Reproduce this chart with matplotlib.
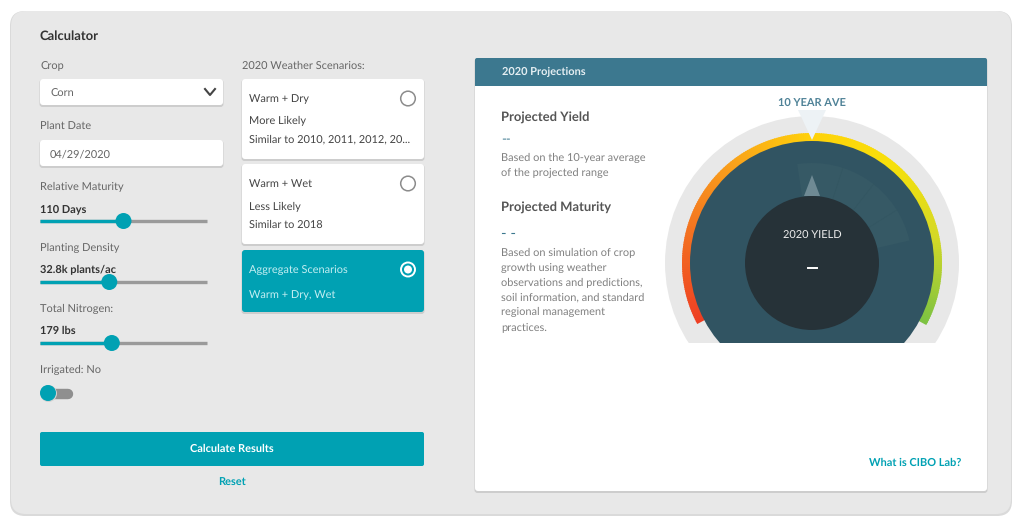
import numpy as np
import matplotlib
matplotlib.use("Agg")
import matplotlib.pyplot as plt
from matplotlib.patches import FancyBboxPatch, Circle, Wedge, Rectangle, Polygon
from matplotlib.colors import LinearSegmentedColormap

plt.rcParams["font.family"] = ["Lato", "DejaVu Sans"]
plt.rcParams["text.hinting"] = "no_hinting"
plt.rcParams["text.hinting_factor"] = 1

slider_names = ["Relative Maturity", "Planting Density", "Total Nitrogen:"]
slider_values = ["110 Days", "32.8k plants/ac", "179 lbs"]
slider_fractions = [0.50, 0.415, 0.43]
scenario_titles = ["Warm + Dry", "Warm + Wet", "Aggregate Scenarios"]
scenario_likely = ["More Likely", "Less Likely", "Warm + Dry, Wet"]
scenario_similar = ["Similar to 2010, 2011, 2012, 20...", "Similar to 2018", ""]
gauge_colors = ["#ee3f23", "#f36f21", "#f9a11b", "#ffd20a", "#f7e00a", "#d5d926", "#7dc242"]
sector_spokes = [-72, -52, -32]

TEAL = "#00a1b3"
GREY = "#666666"
DARK = "#333333"

fig = plt.figure(figsize=(10.24, 5.24), dpi=100)
ax = fig.add_axes([0, 0, 1, 1])
ax.set_xlim(0, 1024)
ax.set_ylim(524, 0)
ax.axis("off")


def box(x, y, w, h, fc, ec="none", r=3, lw=0.8, z=1):
    p = FancyBboxPatch((x + r, y + r), w - 2 * r, h - 2 * r, boxstyle=f"round,pad={r},rounding_size={r}",
                       fc=fc, ec=ec, lw=lw, zorder=z)
    ax.add_patch(p)
    return p


def card(x, y, w, h, fc="white"):
    box(x - 0.5, y + 0.5, w + 1, h + 1.5, "#cdcdcd", z=2)
    box(x, y, w, h, fc, z=3)


def label(x, y, s, size=8.2, color=GREY, weight="normal", ha="left"):
    ax.text(x, y + 0.5, s, fontsize=size, color=color, fontweight=weight, ha=ha, va="center", zorder=8)


# outer panel
box(10, 11, 1002, 505, "#dadada", r=15, z=0)
box(11, 11, 1000, 503, "#e8e8e8", r=15, z=1)

label(40, 36, "Calculator", 9.4, DARK, "bold")
label(40, 65.5, "Crop")
card(40, 79, 183, 26)
label(50, 93, "Corn")
ax.plot([205, 210, 215], [89, 95, 89], color="#444444", lw=1.5, zorder=8)
label(40, 125, "Plant Date")
card(40, 140, 183, 26)
label(50, 153.5, "04/29/2020")

# sliders
for i, name in enumerate(slider_names):
    y0 = 186 + i * 61
    label(40, y0, name)
    label(40, y0 + 22, slider_values[i], 8.0, DARK, "bold")
    ty = y0 + 35
    xk = 40 + 167 * slider_fractions[i]
    ax.plot([40, 207], [ty, ty], color="#9a9a9a", lw=2.4, solid_capstyle="butt", zorder=4)
    ax.plot([40, xk], [ty, ty], color=TEAL, lw=2.4, solid_capstyle="butt", zorder=5)
    ax.add_patch(Circle((xk, ty), 8, fc=TEAL, ec="none", zorder=6))

label(40, 369, "Irrigated: No")
ax.plot([50, 68], [394, 394], color="#8f8f8f", lw=7.5, solid_capstyle="round", zorder=4)
ax.add_patch(Circle((48.5, 393.5), 8.5, fc="#d2d2d2", ec="none", zorder=5))
ax.add_patch(Circle((48, 393), 8, fc=TEAL, ec="none", zorder=6))

# scenario cards
label(242, 65, "2020 Weather Scenarios:", 7.9)
card_y = [79, 164, 250]
card_h = [80, 80, 62]
for i, title in enumerate(scenario_titles):
    active = i == 2
    card(242, card_y[i], 182, card_h[i], TEAL if active else "white")
    txt = "#c4eef2" if active else "#444444"
    label(249, card_y[i] + 19, title, 8.2, txt)
    label(249, card_y[i] + (45 if active else 42), scenario_likely[i], 8.2, txt)
    if scenario_similar[i]:
        label(249, card_y[i] + 60, scenario_similar[i], 8.2, txt)
    cy = card_y[i] + 19.5
    if active:
        ax.add_patch(Circle((408, cy), 7, fc="none", ec="white", lw=1.4, zorder=8))
        ax.add_patch(Circle((408, cy), 4, fc="white", ec="none", zorder=8))
    else:
        ax.add_patch(Circle((408, cy), 7.3, fc="none", ec="#8c8c8c", lw=1.1, zorder=8))

# buttons
box(40, 432, 384, 34, TEAL, r=2, z=3)
label(232, 448, "Calculate Results", 8.2, "white", "bold", "center")
label(232, 482, "Reset", 8.2, TEAL, "bold", "center")

# projections card
card(475, 58, 512, 433)
box(475, 58, 512, 28, "#3c788f", r=2, z=4)
ax.add_patch(Rectangle((475, 72), 512, 14, fc="#3c788f", ec="none", zorder=4))
label(502, 71.5, "2020 Projections", 8.2, "#e4eef2", "bold")

label(501, 117, "Projected Yield", 9, "#555555", "bold")
label(501, 138, "--", 9, "#3c788f")
label(501, 157, "Based on the 10-year average", 8.2, "#808080")
label(501, 172, "of the projected range", 8.2, "#808080")
label(501, 207, "Projected Maturity", 9, "#555555", "bold")
label(501, 233, "- -", 11, "#3c788f")
for k, line in enumerate(["Based on simulation of crop", "growth using weather",
                          "observations and predictions,", "soil information, and standard",
                          "regional management", "practices."]):
    label(501, 253 + k * 14.7, line, 8.1, "#808080")
label(961, 462.5, "What is CIBO Lab?", 8.2, TEAL, "bold", "right")

# gauge
cx, cy = 812, 263
clip = Rectangle((600, 100), 420, 243, transform=ax.transData)
grey = Circle((cx, cy), 147, fc="#e8e8e8", ec="none", zorder=5)
ax.add_patch(grey)
grey.set_clip_path(clip)
cmap = LinearSegmentedColormap.from_list("gauge", gauge_colors)
start, stop = 208.0, -28.0
steps = 236
for j in range(steps):
    a0 = start + (stop - start) * j / steps
    a1 = start + (stop - start) * (j + 1.5) / steps
    # y axis is flipped, so wedge angles are mirrored
    ax.add_patch(Wedge((cx, cy), 130, -a0, -a1, width=10, fc=cmap(j / (steps - 1)), ec="none", zorder=6))
disc = Circle((cx, cy), 122, fc="#315462", ec="none", zorder=7)
ax.add_patch(disc)
disc.set_clip_path(clip)
ax.add_patch(Wedge((cx, cy), 100, -98.5, -13, width=33, fc="#365965", ec="none", zorder=7.2))
for a in sector_spokes:
    t = np.radians(a)
    ax.plot([cx + 67 * np.cos(t), cx + 100 * np.cos(t)], [cy + 67 * np.sin(t), cy + 100 * np.sin(t)],
            color="#335661", lw=0.5, zorder=7.25)
ax.add_patch(Polygon([(812, 175), (804, 196), (820, 196)], fc="#6f8a94", ec="none", zorder=7.3))
ax.add_patch(Circle((cx, cy), 67, fc="#263238", ec="none", zorder=7.5))
ax.add_patch(Polygon([(798, 110), (826, 110), (812, 140)], fc="#edf2f5", ec="none", zorder=7.6))
label(812, 102.5, "10 YEAR AVE", 8, "#4f8297", "bold", "center")
label(812, 235.5, "2020 YIELD", 8, "#ececec", "normal", "center")
ax.plot([807.5, 816.5], [268, 268], color="white", lw=1.4, zorder=8)

fig.savefig("out.png", dpi=100, facecolor="white")
